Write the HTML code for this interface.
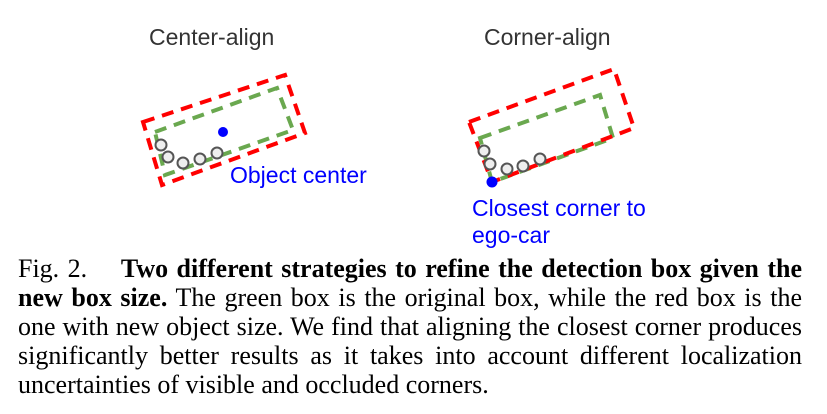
<!DOCTYPE html>
<html><head><style>
body{margin:0;width:827px;height:414px;background:#fff;position:relative;overflow:hidden}
.s{position:absolute;font-family:"Liberation Sans",sans-serif;font-size:23px;white-space:nowrap}
.cap{position:absolute;left:18px;top:254px;width:784px;font-family:"Liberation Serif",serif;font-size:26px;line-height:29px;color:#000}
.cap div{text-align:justify;text-align-last:justify;white-space:nowrap}
.cap div.l{text-align-last:left}
</style></head><body>
<div class="s" style="left:149px;top:24px;color:#333">Center-align</div>
<div class="s" style="left:484px;top:24px;color:#333">Corner-align</div>
<div class="s" style="left:230px;top:162px;color:#00f">Object center</div>
<div class="s" style="left:472px;top:195px;color:#00f">Closest corner to</div>
<div class="s" style="left:472px;top:222px;color:#00f">ego-car</div>
<svg width="827" height="414" style="position:absolute;left:0;top:0">
<g fill="none" stroke-width="4">
<polygon points="143,122 285,75 305,133 162,185" stroke="#f00" stroke-dasharray="12,8"/>
<polygon points="155,132 277,88 293,130 165,175" stroke="#6aa84f" stroke-dasharray="12,8"/>
<polygon points="480,138 600,95 613,138 492,182" stroke="#6aa84f" stroke-dasharray="12,8"/>
<polygon points="469,122 614,69 634,128 492,182" stroke="#f00" stroke-dasharray="12,8"/>
</g>
<g fill="#eee" stroke="#555" stroke-width="2">
<circle cx="161" cy="145" r="5.5"/><circle cx="168" cy="157" r="5.5"/><circle cx="183" cy="163" r="5.5"/><circle cx="200" cy="159" r="5.5"/><circle cx="217" cy="153" r="5.5"/>
<circle cx="484" cy="151" r="5.5"/><circle cx="490" cy="164" r="5.5"/><circle cx="507" cy="169" r="5.5"/><circle cx="523" cy="166" r="5.5"/><circle cx="540" cy="159" r="5.5"/>
</g>
<circle cx="223" cy="132" r="5" fill="#00f"/>
<circle cx="492" cy="182" r="5.5" fill="#00f"/>
</svg>
<div class="cap">
<div>Fig. 2.&nbsp;&nbsp;&nbsp; <b>Two different strategies to refine the detection box given the</b></div>
<div><b>new box size.</b> The green box is the original box, while the red box is the</div>
<div>one with new object size. We find that aligning the closest corner produces</div>
<div>significantly better results as it takes into account different localization</div>
<div class="l">uncertainties of visible and occluded corners.</div>
</div>
</body></html>
